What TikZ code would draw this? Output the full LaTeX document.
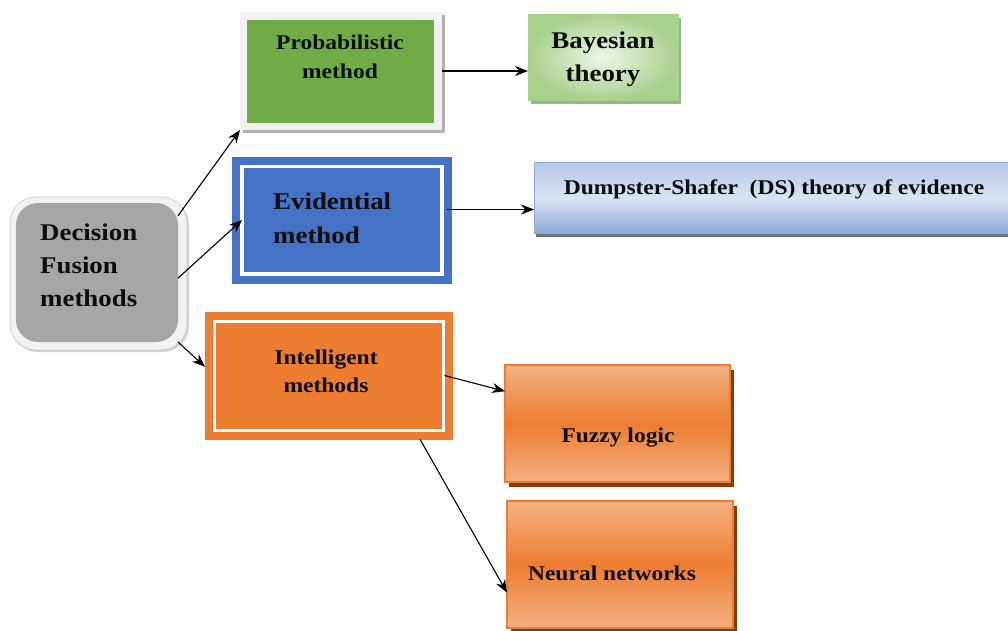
\documentclass[tikz,border=0pt]{standalone}
\usepackage{fontspec}
\setmainfont{Liberation Serif}[FakeStretch=1.12]
\usetikzlibrary{arrows.meta,shadows}
\definecolor{decgray}{HTML}{A6A6A6}
\definecolor{haze}{HTML}{F2F2F2}
\definecolor{probgreen}{HTML}{70AD47}
\definecolor{bayesedge}{HTML}{A9D18E}
\definecolor{bayeslight}{HTML}{EEF6E9}
\definecolor{bayesshadow}{HTML}{9BB48A}
\definecolor{evblue}{HTML}{4472C4}
\definecolor{dsblue}{HTML}{8FAADC}
\definecolor{dsmid}{HTML}{B4C7E7}
\definecolor{dslight}{HTML}{DAE3F3}
\definecolor{intorange}{HTML}{ED7D31}
\definecolor{orangelight}{HTML}{F4B183}
\definecolor{orangeshadow}{HTML}{843C0C}
\tikzset{>={Stealth[length=13pt,width=10pt]}}
\tikzset{
  flat/.style={rectangle,inner sep=0pt,outer sep=0pt},
  txt/.style={inner sep=0pt,align=center,text=black!95,font=\bfseries\fontsize{21}{28}\selectfont},
  bigtxt/.style={txt,font=\bfseries\fontsize{24}{33}\selectfont},
  link/.style={->,line width=1.1pt},
  orangebox/.style={flat,draw=intorange,line width=1.5pt,top color=orangelight,bottom color=orangelight,middle color=intorange,
    drop shadow={fill=orangeshadow,opacity=1,shadow xshift=4pt,shadow yshift=-5pt}}
}

\begin{document}
\begin{tikzpicture}[x=1pt,y=-1pt]
\useasboundingbox (0,0) rectangle (1008,630);
\clip (0,0) rectangle (1008,630);
\fill[white] (0,0) rectangle (1008,630);

\node[flat,minimum width=177pt,minimum height=153pt,rounded corners=26pt,fill=haze,draw=black!22,line width=0.6pt,
  drop shadow={opacity=0.35,shadow xshift=2pt,shadow yshift=-2pt}] (decout) at (98.5,273.5) {};
\node[flat,minimum width=162pt,minimum height=139pt,rounded corners=22pt,fill=decgray] (decin) at (97,272.5) {};
\node[bigtxt,align=left,anchor=west] (dectxt) at (40,265) {Decision\\Fusion\\methods};

\node[flat,minimum width=202pt,minimum height=118pt,fill=haze,
  drop shadow={fill=black!30,opacity=1,shadow xshift=3pt,shadow yshift=-3pt}] (probout) at (341,71) {};
\node[flat,minimum width=187pt,minimum height=103pt,fill=probgreen] (probin) at (340.5,71.5) {};
\node[txt,font=\bfseries\fontsize{21}{29}\selectfont] (probtxt) at (340,56.5) {Probabilistic\\method};

\node[flat,minimum width=150pt,minimum height=86pt,draw=bayesedge,line width=1pt,inner color=bayeslight,outer color=bayesedge,
  drop shadow={fill=bayesshadow,opacity=1,shadow xshift=3pt,shadow yshift=-4pt}] (bayes) at (603,57) {};
\node[bigtxt] (bayestxt) at (603,59.5) {Bayesian\\theory};

\node[flat,minimum width=200pt,minimum height=107.5pt,fill=evblue,draw=evblue,double=white,double distance=3.5pt,line width=8pt] (evid) at (342,220) {};
\node[bigtxt,align=left,anchor=west,font=\bfseries\fontsize{24}{34}\selectfont] (evidtxt) at (273,218) {Evidential\\method};

\node[flat,minimum width=496pt,minimum height=71pt,draw=dsblue,line width=1pt,top color=dsmid,bottom color=dsblue,middle color=dslight,
  drop shadow={fill=black!55,opacity=1,shadow xshift=2pt,shadow yshift=-4pt}] (ds) at (782,197.5) {};
\node[txt] (dstxt) at (774,189) {Dumpster-Shafer~ (DS) theory of evidence};

\node[flat,outer sep=9.5pt,minimum width=228.5pt,minimum height=109pt,fill=intorange,draw=intorange,double=white,double distance=3pt,line width=8pt] (intel) at (328.75,375.5) {};
\node[txt] (inteltxt) at (326,371) {Intelligent\\methods};

\node[orangebox,minimum width=225pt,minimum height=117pt] (fuzzy) at (617.5,423.5) {};
\node[txt] (fuzzytxt) at (618,438) {Fuzzy logic};
\node[orangebox,minimum width=226pt,minimum height=127pt] (neural) at (620,564.5) {};
\node[txt] (neuraltxt) at (612,573) {Neural networks};

\draw[link] (decin.35) -- (probout.south west);
\draw[link] (decin.-4.5) -- (evid.west);
\draw[link] (decin.south east) -- (intel.176.5);
\draw[link] (probout.east) -- (probout.east -| bayes.west);
\draw[link] ([xshift=5pt]evid.6) -- (evid.6 -| ds.west);
\draw[link] ([xshift=-8pt]intel.east) -- (fuzzy.164.4);
\draw[link] (intel.-35) -- (neural.194.75);
\end{tikzpicture}
\end{document}
